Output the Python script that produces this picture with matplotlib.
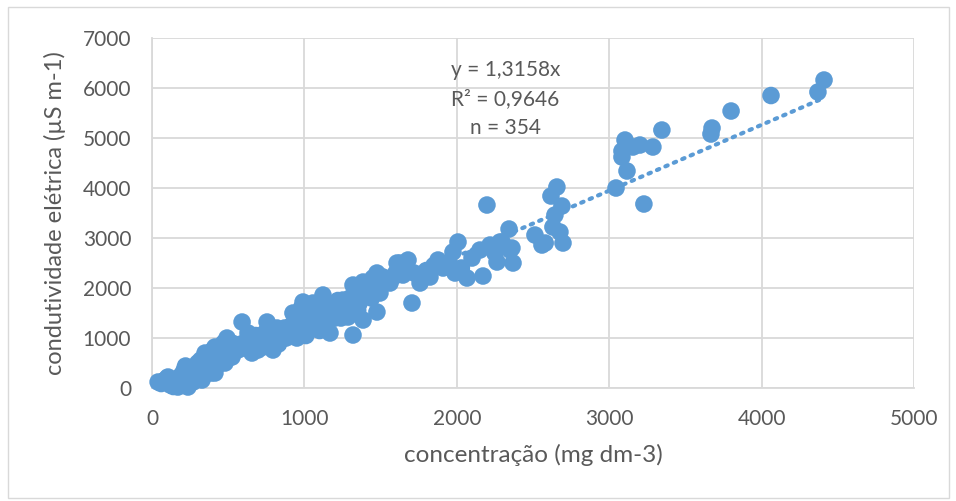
import matplotlib.pyplot as plt
from matplotlib.patches import Rectangle

plt.rcParams['font.family'] = ['Lato', 'DejaVu Sans']

# concentração (mg dm-3) e condutividade elétrica (µS m-1)
conc = [40, 60, 80, 100, 105, 120, 130, 140, 150, 160, 170, 180, 190, 200, 210,
        220, 230, 236, 240, 250, 260, 270, 280, 290, 300, 310, 320, 328, 340, 348,
        355, 360, 370, 380, 390, 400, 413, 413, 420, 430, 440, 450, 460, 470, 479,
        490, 492, 500, 510, 525, 540, 550, 564, 580, 591, 600, 610, 630, 640, 656,
        670, 680, 695, 700, 710, 722, 728, 740, 755, 760, 770, 787, 794, 800, 810,
        820, 830, 840, 860, 870, 880, 890, 906, 915, 925, 930, 940, 951, 960, 970,
        980, 991, 991, 1000, 1010, 1020, 1030, 1040, 1056, 1056, 1070, 1080, 1090, 1100, 1110,
        1122, 1130, 1148, 1150, 1168, 1180, 1188, 1200, 1220, 1240, 1253, 1270, 1286, 1300, 1319,
        1319, 1340, 1360, 1385, 1385, 1400, 1420, 1430, 1450, 1476, 1476, 1490, 1496, 1516, 1540,
        1562, 1600, 1608, 1627, 1647, 1660, 1680, 1706, 1720, 1759, 1800, 1824, 1850, 1877, 1910,
        1950, 1975, 1988, 2008, 2030, 2067, 2100, 2152, 2172, 2198, 2218, 2250, 2264, 2283, 2297,
        2343, 2349, 2362, 2369, 2513, 2559, 2580, 2618, 2631, 2644, 2657, 2677, 2690, 2697, 3045,
        3084, 3084, 3104, 3117, 3156, 3202, 3228, 3287, 3346, 3668, 3675, 3800, 4062, 4370, 4410,
        150, 190, 260, 330, 450, 620, 750, 900, 1050, 1120, 1200, 1260, 1350, 1440]
cond = [120, 90, 150, 200, 220, 60, 120, 30, 100, 180, 20, 80, 250, 150, 350,
        440, 60, 20, 300, 200, 380, 120, 420, 300, 500, 250, 560, 160, 450, 700,
        620, 380, 520, 650, 300, 760, 300, 820, 580, 700, 480, 800, 650, 900, 500,
        740, 1000, 850, 920, 620, 880, 760, 760, 850, 1320, 900, 800, 1100, 960, 700,
        880, 1050, 760, 1000, 850, 960, 820, 1100, 1320, 950, 1050, 900, 760, 1150, 1000,
        1200, 880, 960, 1080, 1200, 1000, 1100, 1160, 1250, 1500, 1050, 1300, 1000, 1400, 1100,
        1600, 1160, 1720, 1300, 1050, 1450, 1200, 1550, 1300, 1700, 1250, 1600, 1400, 1150, 1500,
        1860, 1700, 1320, 1600, 1100, 1450, 1660, 1550, 1750, 1400, 1760, 1600, 1420, 1800, 1060,
        2060, 1900, 1700, 1360, 2120, 1950, 2000, 1900, 2200, 1520, 2300, 2100, 1900, 2220, 2150,
        2100, 2300, 2500, 2500, 2260, 2400, 2560, 1700, 2300, 2100, 2350, 2220, 2450, 2560, 2400,
        2500, 2720, 2300, 2920, 2400, 2200, 2600, 2760, 2240, 3660, 2860, 2700, 2520, 2920, 2920,
        3180, 2760, 2800, 2500, 3060, 2860, 2900, 3840, 3220, 3460, 4020, 3120, 3640, 2900, 4000,
        4740, 4620, 4960, 4340, 4820, 4860, 3680, 4820, 5160, 5080, 5200, 5540, 5850, 5920, 6160,
        40, 120, 260, 420, 600, 820, 1000, 1200, 1400, 1250, 1400, 1700, 1550, 1800]

slope = 1.3158
texto = ['y = 1,3158x', 'R² = 0,9646', 'n = 354']

azul = '#5B9BD5'
cinza = '#595959'
grade = '#D9D9D9'

fig = plt.figure(figsize=(9.56, 5.01), dpi=100)
fig.patches.append(Rectangle((0.008, 0.006), 0.985, 0.98, transform=fig.transFigure,
                             fill=False, edgecolor=grade, linewidth=1))
ax = fig.add_axes([0.159, 0.2255, 0.797, 0.6986])

ax.scatter(conc, cond, s=160, color=azul, edgecolors='none', zorder=3, clip_on=False)
xmax = max(conc)
ax.plot([0, xmax], [0, slope * xmax], color=azul, linestyle=(0, (0.6, 1.6)),
        linewidth=3, dash_capstyle='round', zorder=4)

ax.set_xlim(0, 5000)
ax.set_ylim(0, 7000)
ax.set_xticks(range(0, 5001, 1000))
ax.set_yticks(range(0, 7001, 1000))
ax.grid(True, color=grade, linewidth=1.3, zorder=0)
ax.set_axisbelow(True)
for lado in ['top', 'right']:
    ax.spines[lado].set_visible(False)
for lado in ['left', 'bottom']:
    ax.spines[lado].set_color(grade)
    ax.spines[lado].set_linewidth(1.3)
ax.tick_params(length=0, labelsize=15, labelcolor=cinza, pad=15)

ax.set_xlabel('concentração (mg dm-3)', fontsize=17.5, color=cinza, labelpad=11)
ax.set_ylabel('condutividade elétrica (µS m-1)', fontsize=17, color=cinza, labelpad=12)

for i, t in enumerate(texto):
    ax.text(2320, 6360 - i * 580, t, fontsize=15, color=cinza, ha='center', va='center')

fig.savefig('out.png', dpi=100)
